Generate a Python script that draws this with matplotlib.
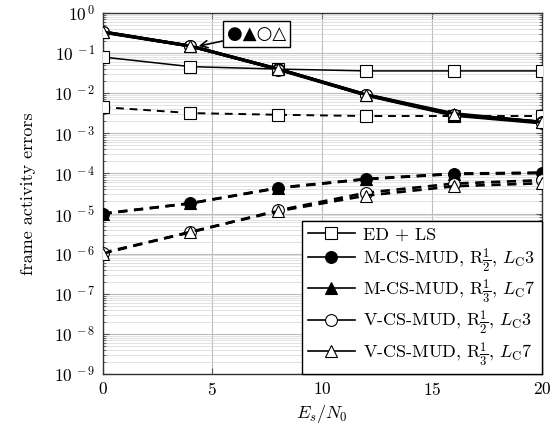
import numpy as np
import matplotlib
matplotlib.use("Agg")
import matplotlib.pyplot as plt
from matplotlib.lines import Line2D
from matplotlib.ticker import LogLocator, FixedLocator, FuncFormatter, NullFormatter

plt.rcParams['font.family'] = 'serif'
plt.rcParams['font.serif'] = ['cmr10', 'DejaVu Serif']
plt.rcParams['mathtext.fontset'] = 'cm'
plt.rcParams['axes.formatter.use_mathtext'] = True

# Es/N0 points
esn0 = [0, 4, 8, 12, 16, 20]

# ED + LS (solid / dashed)
ed_ls_solid = [0.080, 0.046, 0.040, 0.036, 0.036, 0.036]
ed_ls_dashed = [0.0045, 0.0032, 0.0029, 0.0027, 0.0027, 0.0027]

# CS-MUD curves, solid (upper group)
m_r12_solid = [0.34, 0.15, 0.040, 0.0090, 0.0029, 0.0019]
m_r13_solid = [0.34, 0.15, 0.040, 0.0092, 0.0029, 0.0019]
v_r12_solid = [0.33, 0.15, 0.039, 0.0089, 0.0028, 0.0018]
v_r13_solid = [0.34, 0.15, 0.040, 0.0092, 0.0031, 0.0019]

# CS-MUD curves, dashed (lower group)
m_r12_dashed = [1.0e-5, 1.8e-5, 4.3e-5, 7.2e-5, 9.7e-5, 1.02e-4]
m_r13_dashed = [9.8e-6, 1.8e-5, 4.4e-5, 7.3e-5, 9.9e-5, 1.05e-4]
v_r12_dashed = [1.05e-6, 3.4e-6, 1.2e-5, 3.3e-5, 5.6e-5, 6.8e-5]
v_r13_dashed = [1.0e-6, 3.5e-6, 1.15e-5, 2.8e-5, 4.8e-5, 5.7e-5]

labels = ['ED + LS',
          r'M-CS-MUD, R$\frac{1}{2}$, $L_{\rm C}$3',
          r'M-CS-MUD, R$\frac{1}{3}$, $L_{\rm C}$7',
          r'V-CS-MUD, R$\frac{1}{2}$, $L_{\rm C}$3',
          r'V-CS-MUD, R$\frac{1}{3}$, $L_{\rm C}$7']

fig = plt.figure(figsize=(5.58, 4.32), dpi=100)
ax = fig.add_axes([0.1837, 0.1343, 0.7876, 0.8356])

dash = (0, (3.5, 2.5))
ms = 8.5

# ED + LS
ax.plot(esn0, ed_ls_solid, '-', color='black', lw=1.1, marker='s', ms=ms,
        mfc='white', mec='black', mew=0.8, zorder=3)
ax.plot(esn0, ed_ls_dashed, color='black', lw=1.4, ls=(0, (4, 3)), marker='s', ms=ms,
        mfc='white', mec='black', mew=0.8, zorder=3)

series = [
    (m_r12_solid, m_r12_dashed, 'o', 'black'),
    (m_r13_solid, m_r13_dashed, '^', 'black'),
    (v_r12_solid, v_r12_dashed, 'o', 'white'),
    (v_r13_solid, v_r13_dashed, '^', 'white'),
]
for sol, dsh, mk, fc in series:
    ax.plot(esn0, sol, '-', color='black', lw=2.2, marker=mk, ms=ms,
            mfc=fc, mec='black', mew=0.8, zorder=4)
    ax.plot(esn0, dsh, color='black', lw=1.9, ls=dash, marker=mk, ms=ms,
            mfc=fc, mec='black', mew=0.8, zorder=4)

ax.set_yscale('log')
ax.set_xlim(0, 20)
ax.set_ylim(1e-9, 1)
ax.xaxis.set_major_locator(FixedLocator([0, 5, 10, 15, 20]))
ax.yaxis.set_major_locator(LogLocator(base=10, numticks=20))
ax.yaxis.set_minor_locator(LogLocator(base=10, subs=np.arange(2, 10), numticks=20))
ax.yaxis.set_minor_formatter(NullFormatter())
ax.yaxis.set_major_formatter(FuncFormatter(lambda v, p: r'$10^{\,%d}$' % round(np.log10(v))))

ax.grid(which='major', color='#bdbdbd', lw=0.8)
ax.grid(which='minor', axis='y', color='#d4d4d4', lw=0.5)
ax.set_axisbelow(True)
ax.tick_params(which='both', direction='in', top=True, right=True, labelsize=12.5,
               color='#555555')
ax.tick_params(which='major', length=4, pad=5)
ax.tick_params(which='minor', length=2.5)
for s in ax.spines.values():
    s.set_color('#333333')
    s.set_linewidth(1.0)

ax.set_xlabel(r'$E_s/N_0$', fontsize=13)
ax.set_ylabel('frame activity errors', fontsize=13, labelpad=13)

# legend
handles = [
    Line2D([], [], color='black', lw=1.2, marker='s', ms=ms, mfc='white', mec='black', mew=0.8),
    Line2D([], [], color='black', lw=1.2, marker='o', ms=ms, mfc='black', mec='black', mew=0.8),
    Line2D([], [], color='black', lw=1.2, marker='^', ms=ms, mfc='black', mec='black', mew=0.8),
    Line2D([], [], color='black', lw=1.2, marker='o', ms=ms, mfc='white', mec='black', mew=0.8),
    Line2D([], [], color='black', lw=1.2, marker='^', ms=ms, mfc='white', mec='black', mew=0.8),
]
leg = ax.legend(handles, labels, loc='lower right', fontsize=13, handlelength=2.6,
                borderaxespad=0, fancybox=False, framealpha=1, edgecolor='black',
                labelspacing=0.2, handletextpad=0.45, borderpad=0.35)
leg.get_frame().set_linewidth(1.0)
leg.set_zorder(10)

# annotation box with marker symbols
ax.annotate('●▲○△', xy=(4.25, 0.145), xytext=(5.65, 0.30), fontsize=13,
            family='DejaVu Sans', va='center', ha='left',
            bbox=dict(boxstyle='square,pad=0.2', fc='white', ec='black', lw=1.0),
            arrowprops=dict(arrowstyle='->', color='black', lw=1.2, shrinkA=0, shrinkB=2),
            zorder=11)

fig.savefig('out.png', dpi=100)
